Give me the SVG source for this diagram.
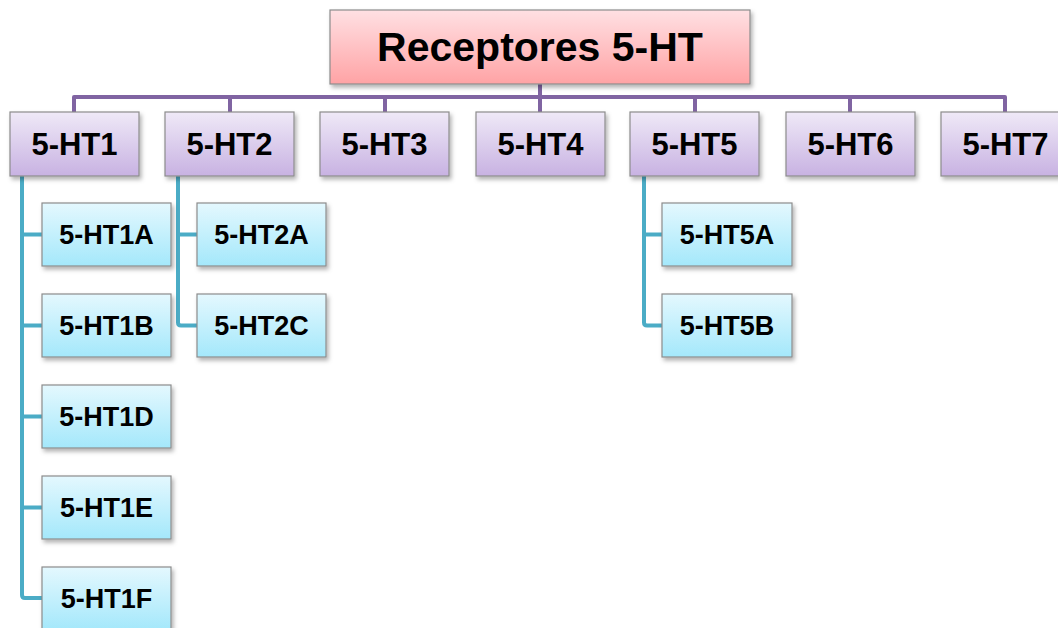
<svg xmlns="http://www.w3.org/2000/svg" width="1058" height="628" viewBox="0 0 1058 628">
  <defs>
    <linearGradient id="gRoot" x1="0" y1="0" x2="0" y2="1">
      <stop offset="0" stop-color="#ffe0e3"/>
      <stop offset="1" stop-color="#ffa3a5"/>
    </linearGradient>
    <linearGradient id="gType" x1="0" y1="0" x2="0" y2="1">
      <stop offset="0" stop-color="#efe9f7"/>
      <stop offset="1" stop-color="#c8b2e2"/>
    </linearGradient>
    <linearGradient id="gSub" x1="0" y1="0" x2="0" y2="1">
      <stop offset="0" stop-color="#e4f8fe"/>
      <stop offset="1" stop-color="#a4e8fb"/>
    </linearGradient>
    <filter id="shadow" x="-10%" y="-10%" width="130%" height="140%">
      <feDropShadow dx="2" dy="3" stdDeviation="2" flood-color="#000" flood-opacity="0.3"/>
    </filter>
  </defs>
  <style>
    .box { stroke: #8c8c8c; stroke-width: 1.2; filter: url(#shadow); }
    .root { fill: url(#gRoot); }
    .type { fill: url(#gType); }
    .sub { fill: url(#gSub); }
    text { font-family: "Liberation Sans", Arial, sans-serif; font-weight: bold; fill: #000; text-anchor: middle; }
    .t0 { font-size: 41px; }
    .t1 { font-size: 31px; }
    .t2 { font-size: 27px; }
    .bus { fill: none; stroke: #8064a2; stroke-width: 4; stroke-linejoin: round; }
    .branch { fill: none; stroke: #4bacc6; stroke-width: 4; stroke-linejoin: round; }
  </style>
  <rect width="1058" height="628" fill="#ffffff"/>

  <g id="connectors">
    <!-- root to receptor families -->
    <path class="bus" d="M540 84 V97"/>
    <path class="bus" d="M74 112 V97 H1005 V112"/>
    <path class="bus" d="M230 97 V112 M385 97 V112 M540 97 V112 M695 97 V112 M850 97 V112"/>
    <!-- 5-HT1 subtypes -->
    <path class="branch" d="M22 176 V595 Q22 598 25 598 H42"/>
    <path class="branch" d="M22 234.5 H42 M22 325.5 H42 M22 416.5 H42 M22 507.5 H42"/>
    <!-- 5-HT2 subtypes -->
    <path class="branch" d="M178 176 V322.5 Q178 325.5 181 325.5 H197"/>
    <path class="branch" d="M178 234.5 H197"/>
    <!-- 5-HT5 subtypes -->
    <path class="branch" d="M644 176 V322.5 Q644 325.5 647 325.5 H662"/>
    <path class="branch" d="M644 234.5 H662"/>
  </g>

  <g id="root">
    <rect class="box root" x="330" y="10" width="420" height="74"/>
    <text class="t0" x="540" y="61">Receptores 5-HT</text>
  </g>

  <g id="ht1"><rect class="box type" x="10" y="112" width="129" height="64"/><text class="t1" x="74.5" y="155">5-HT1</text></g>
  <g id="ht2"><rect class="box type" x="165" y="112" width="129" height="64"/><text class="t1" x="229.5" y="155">5-HT2</text></g>
  <g id="ht3"><rect class="box type" x="320" y="112" width="129" height="64"/><text class="t1" x="384.5" y="155">5-HT3</text></g>
  <g id="ht4"><rect class="box type" x="476" y="112" width="129" height="64"/><text class="t1" x="540.5" y="155">5-HT4</text></g>
  <g id="ht5"><rect class="box type" x="630" y="112" width="129" height="64"/><text class="t1" x="694.5" y="155">5-HT5</text></g>
  <g id="ht6"><rect class="box type" x="786" y="112" width="129" height="64"/><text class="t1" x="850.5" y="155">5-HT6</text></g>
  <g id="ht7"><rect class="box type" x="941" y="112" width="129" height="64"/><text class="t1" x="1005.5" y="155">5-HT7</text></g>

  <g id="ht1a"><rect class="box sub" x="42" y="203" width="129" height="63"/><text class="t2" x="106.5" y="244">5-HT1A</text></g>
  <g id="ht1b"><rect class="box sub" x="42" y="294" width="129" height="63"/><text class="t2" x="106.5" y="335">5-HT1B</text></g>
  <g id="ht1d"><rect class="box sub" x="42" y="385" width="129" height="63"/><text class="t2" x="106.5" y="426">5-HT1D</text></g>
  <g id="ht1e"><rect class="box sub" x="42" y="476" width="129" height="63"/><text class="t2" x="106.5" y="517">5-HT1E</text></g>
  <g id="ht1f"><rect class="box sub" x="42" y="567" width="129" height="63"/><text class="t2" x="106.5" y="608">5-HT1F</text></g>

  <g id="ht2a"><rect class="box sub" x="197" y="203" width="129" height="63"/><text class="t2" x="261.5" y="244">5-HT2A</text></g>
  <g id="ht2c"><rect class="box sub" x="197" y="294" width="129" height="63"/><text class="t2" x="261.5" y="335">5-HT2C</text></g>

  <g id="ht5a"><rect class="box sub" x="662" y="203" width="130" height="63"/><text class="t2" x="727" y="244">5-HT5A</text></g>
  <g id="ht5b"><rect class="box sub" x="662" y="294" width="130" height="63"/><text class="t2" x="727" y="335">5-HT5B</text></g>
</svg>
